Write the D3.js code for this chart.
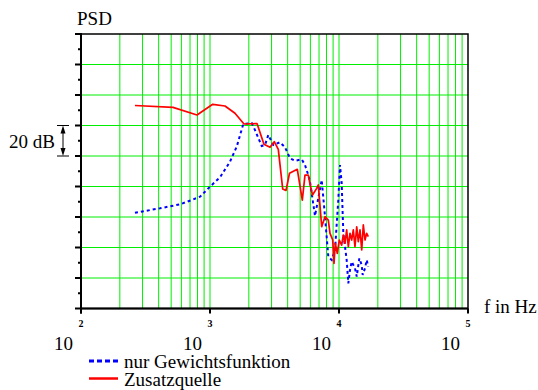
<!DOCTYPE html>
<html>
<head>
<meta charset="utf-8">
<script src="https://cdnjs.cloudflare.com/ajax/libs/d3/7.8.5/d3.min.js"></script>
<style>
    body { margin: 0; background: #fff; }
</style>
</head>
<body>
<script>
//Data: frequency in Hz, PSD in dB
var freqZusatz = [262, 517, 793, 1049, 1307, 1562, 1835, 2314, 2620, 2918, 3150, 3384, 3660, 3882,
    4133, 4751, 5194, 5450, 5781, 5960, 6230, 6716, 6911, 7344, 7790, 8263, 8516, 8940, 9147,
    9360, 9700, 10050, 10490, 10800, 11130, 11470, 11810, 12170, 12540, 12910, 13300, 13720,
    14110, 14550, 15000, 15430, 15910, 16390, 16870];
var psdZusatz = [133.1, 131.9, 126.9, 133.9, 132.8, 128.0, 121.0, 121.3, 107.7, 105.7, 109.4, 104.4,
    78.4, 77.4, 88.7, 91.3, 71.1, 87.5, 87.5, 81.6, 74.4, 78.8, 81.0, 53.6, 60.2, 58.0, 49.3,
    44.9, 29.6, 42.8, 36.2, 44.9, 41.6, 48.2, 42.8, 51.5, 40.5, 49.3, 44.9, 51.5, 40.5, 53.6,
    43.8, 51.5, 38.4, 54.8, 44.9, 49.3, 47.1];

var freqGewicht = [262, 410, 585, 721, 837, 1000, 1196, 1429, 1611, 1812, 2106, 2233, 2517, 2669,
    2831, 3096, 3488, 3814, 4171, 4560, 5139, 5450, 5781, 5960, 6516, 7344, 7790, 8263, 8779,
    9311, 9877, 10180, 10490, 10800, 11470, 11810, 12170, 12540, 13300, 13720, 14370, 15000,
    15260, 15910, 16390, 16870];
var psdGewicht = [62.8, 65.7, 68.3, 71.1, 73.3, 79.9, 86.0, 96.3, 106.1, 121.0, 121.6, 117.0, 106.6,
    107.2, 113.8, 107.2, 109.0, 105.7, 98.5, 96.9, 97.8, 94.1, 87.5, 83.1, 60.7, 84.3, 60.2,
    34.0, 31.8, 38.4, 71.1, 94.1, 82.1, 49.3, 31.8, 16.5, 25.2, 30.7, 26.4, 20.9, 32.9, 28.5,
    22.0, 26.4, 31.8, 27.4];

var decadeExponents = [2, 3, 4, 5];
var legendLabels = ["nur Gewichtsfunktion", "Zusatzquelle"];

//Width and height
var w = 538;
var h = 390;
var plot = { left: 81, right: 468, top: 34, bottom: 308.5 };
var gridColor = "#00ee00";
var serif = "'Times New Roman', 'Liberation Serif', serif";

//Scales
var x = d3.scaleLog()
    .domain([100, 100000])
    .range([plot.left, plot.right]);
var y = d3.scaleLinear()
    .domain([0, 180])
    .range([plot.bottom, plot.top]);

//Create SVG element
var svg = d3.select("body")
    .append("svg")
    .attr("width", w)
    .attr("height", h);

//Vertical grid at 1..9 x 10^n
var vLines = [];
for (var n = 2; n < 5; n++) {
    for (var k = 1; k < 10; k++) {
        if (n == 2 && k == 1) continue;
        vLines.push(k * Math.pow(10, n));
    }
}
svg.append("g")
    .selectAll("line")
    .data(vLines)
    .enter()
    .append("line")
    .attr("x1", (d) => x(d))
    .attr("x2", (d) => x(d))
    .attr("y1", plot.top)
    .attr("y2", plot.bottom)
    .attr("stroke", gridColor)
    .attr("stroke-width", 1);

//Horizontal grid every 20 dB
svg.append("g")
    .selectAll("line")
    .data(d3.range(20, 180, 20))
    .enter()
    .append("line")
    .attr("x1", plot.left)
    .attr("x2", plot.right)
    .attr("y1", (d) => y(d))
    .attr("y2", (d) => y(d))
    .attr("stroke", gridColor)
    .attr("stroke-width", 1);

//Frame
svg.append("rect")
    .attr("x", plot.left)
    .attr("y", plot.top)
    .attr("width", plot.right - plot.left)
    .attr("height", plot.bottom - plot.top)
    .attr("fill", "none")
    .attr("stroke", "#000")
    .attr("stroke-width", 1.5);

//Left axis: major and minor ticks
svg.append("line")
    .attr("x1", plot.left).attr("x2", plot.left)
    .attr("y1", plot.top - 1).attr("y2", plot.bottom + 5)
    .attr("stroke", "#000").attr("stroke-width", 2);
svg.append("g")
    .selectAll("line")
    .data(d3.range(0, 181, 20))
    .enter()
    .append("line")
    .attr("x1", plot.left - 6)
    .attr("x2", plot.left)
    .attr("y1", (d) => y(d))
    .attr("y2", (d) => y(d))
    .attr("stroke", "#000")
    .attr("stroke-width", 2);
svg.append("g")
    .selectAll("line")
    .data(d3.range(10, 180, 20))
    .enter()
    .append("line")
    .attr("x1", plot.left - 3)
    .attr("x2", plot.left)
    .attr("y1", (d) => y(d))
    .attr("y2", (d) => y(d))
    .attr("stroke", "#000")
    .attr("stroke-width", 2);

//Bottom axis and decade ticks
svg.append("line")
    .attr("x1", plot.left).attr("x2", plot.right)
    .attr("y1", plot.bottom).attr("y2", plot.bottom)
    .attr("stroke", "#000").attr("stroke-width", 2);
svg.append("g")
    .selectAll("line")
    .data(decadeExponents)
    .enter()
    .append("line")
    .attr("x1", (d) => x(Math.pow(10, d)))
    .attr("x2", (d) => x(Math.pow(10, d)))
    .attr("y1", plot.bottom)
    .attr("y2", plot.bottom + 5)
    .attr("stroke", "#000")
    .attr("stroke-width", 2);

//Decade labels: small exponent at the tick, "10" below left
svg.append("g")
    .selectAll("text")
    .data(decadeExponents)
    .enter()
    .append("text")
    .attr("x", (d) => x(Math.pow(10, d)))
    .attr("y", 327)
    .attr("text-anchor", "middle")
    .style("font-family", serif)
    .style("font-size", "10px")
    .style("font-weight", "bold")
    .text((d) => d);
svg.append("g")
    .selectAll("text")
    .data(decadeExponents)
    .enter()
    .append("text")
    .attr("x", (d) => x(Math.pow(10, d)) - 8)
    .attr("y", 350)
    .attr("text-anchor", "end")
    .style("font-family", serif)
    .style("font-size", "19px")
    .text("10");

//Axis titles
svg.append("text")
    .attr("x", 77)
    .attr("y", 25)
    .style("font-family", serif)
    .style("font-size", "19px")
    .text("PSD");
svg.append("text")
    .attr("x", 484)
    .attr("y", 313)
    .style("font-family", serif)
    .style("font-size", "19px")
    .text("f in Hz");

//20 dB scale marker
var mTop = y(120), mBot = y(100), mx = 63;
svg.append("text")
    .attr("x", 55)
    .attr("y", 148)
    .attr("text-anchor", "end")
    .style("font-family", serif)
    .style("font-size", "19px")
    .text("20 dB");
svg.append("g")
    .selectAll("line")
    .data([mTop, mBot])
    .enter()
    .append("line")
    .attr("x1", mx - 6).attr("x2", mx + 6)
    .attr("y1", (d) => d).attr("y2", (d) => d)
    .attr("stroke", "#000").attr("stroke-width", 1);
svg.append("line")
    .attr("x1", mx).attr("x2", mx)
    .attr("y1", mTop + 6).attr("y2", mBot - 6)
    .attr("stroke", "#000").attr("stroke-width", 1);
svg.append("path")
    .attr("d", "M" + mx + "," + mTop + "l-2.5,8h5z M" + mx + "," + mBot + "l-2.5,-8h5z")
    .attr("fill", "#000");

//Lines
var line = d3.line()
    .x((d) => x(d[0]))
    .y((d) => y(d[1]));

svg.append("path")
    .datum(d3.zip(freqGewicht, psdGewicht))
    .attr("d", line)
    .attr("fill", "none")
    .attr("stroke", "#0000ff")
    .attr("stroke-width", 2)
    .attr("stroke-dasharray", "3,3");

svg.append("path")
    .datum(d3.zip(freqZusatz, psdZusatz))
    .attr("d", line)
    .attr("fill", "none")
    .attr("stroke", "#ff0000")
    .attr("stroke-width", 1.7)
    .attr("stroke-linejoin", "round");

//Legend
var legend = svg.append("g")
    .selectAll("g")
    .data(legendLabels)
    .enter()
    .append("g")
    .attr("transform", (d, i) => "translate(89," + (361 + i * 17.5) + ")");
legend.append("line")
    .attr("x1", 0).attr("x2", 29)
    .attr("y1", 0).attr("y2", 0)
    .attr("stroke", (d, i) => i == 0 ? "#0000ff" : "#ff0000")
    .attr("stroke-width", (d, i) => i == 0 ? 3 : 2.5)
    .attr("stroke-dasharray", (d, i) => i == 0 ? "5,3" : null);
legend.append("text")
    .attr("x", 35)
    .attr("y", 7)
    .style("font-family", serif)
    .style("font-size", "19px")
    .text((d) => d);
</script>
</body>
</html>
